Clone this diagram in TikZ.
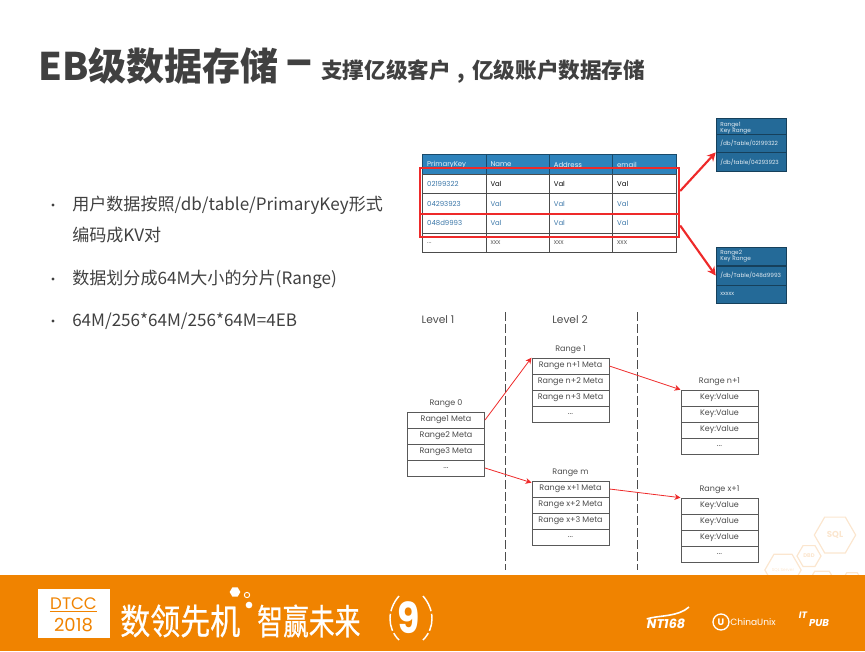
\documentclass[tikz,border=0pt]{standalone}
\usepackage{xcolor}
\usepackage{fontspec}
\setmainfont{Noto Sans CJK SC}
\newfontfamily\gothfont{Poppins}
\newfontfamily\sloganfont[FakeBold=0.6]{Noto Sans CJK SC}
\usetikzlibrary{positioning,shapes,arrows.meta}

\definecolor{slidetext}{HTML}{404040}
\definecolor{bannerorange}{HTML}{F08300}
\definecolor{headblue}{HTML}{2E83BC}
\definecolor{rangeblue}{HTML}{246A98}
\definecolor{cellblue}{HTML}{3A76A8}
\definecolor{redline}{HTML}{EE2A2A}
\definecolor{hexline}{HTML}{FBE6CF}

\tikzset{
    metacell/.style={draw=black!65, line width=0.5pt, fill=white, rectangle, minimum width=58pt, minimum height=12pt, inner sep=0pt, text=black!70, font=\gothfont\fontsize{6}{7}\selectfont},
    keycell/.style={draw=black!70, line width=0.8pt, fill=white, rectangle, minimum width=47.5pt, minimum height=14.7pt, inner sep=0pt, text width=41pt, align=left, font=\gothfont\fontsize{5.2}{6}\selectfont},
    headcell/.style={keycell, fill=headblue, draw=rangeblue!70!black, text=white!90!headblue},
    rangecell/.style={draw=rangeblue!60!black, line width=0.4pt, fill=rangeblue, rectangle, minimum width=52.5pt, minimum height=13.8pt, inner sep=0pt, text width=46pt, align=left, text=white!88!rangeblue, font=\gothfont\fontsize{4.3}{5}\selectfont},
    redbox/.style={draw=redline, line width=1.5pt, rectangle, inner sep=0pt},
    redlink/.style={-{Stealth[length=4.5pt,width=4.5pt]}, draw=redline, line width=0.6pt},
    redlinkbig/.style={-{Stealth[length=6.5pt,width=6.5pt]}, draw=redline, line width=1.6pt},
    caption/.style={text=black!70, inner sep=0pt, font=\gothfont\fontsize{6}{7}\selectfont},
    levelcaption/.style={caption, font=\gothfont\fontsize{8}{9}\selectfont},
    cutline/.style={black!70, line width=0.7pt, dash pattern=on 6.5pt off 2.5pt},
    bullettext/.style={anchor=west, inner sep=0pt, text=slidetext, font=\fontsize{12.8}{15}\selectfont},
    bulletdot/.style={circle, fill=slidetext, inner sep=0pt, minimum size=2.4pt},
    hexcell/.style={draw=hexline, line width=0.9pt, regular polygon, regular polygon sides=6, inner sep=0pt, text=hexline, font=\gothfont\bfseries},
    bannertext/.style={text=white, inner sep=0pt, yscale=1.18, font=\sloganfont\fontsize{22.5}{24}\selectfont},
    logotext/.style={text=white, inner sep=0pt, font=\gothfont\bfseries\itshape}
}

\begin{document}
\begin{tikzpicture}[x=0.75pt, y=-0.75pt, node distance=12pt]
    \useasboundingbox (0,0) rectangle (865,651);

    % title
    \node[anchor=west, inner sep=0pt, text=slidetext, font=\fontsize{28.5}{30}\selectfont\bfseries] (title) at (38,66) {EB级数据存储};
    \node[anchor=west, inner sep=0pt, text=slidetext, font=\fontsize{38}{40}\selectfont\bfseries] (dash) at (285,69) {–};
    \node[anchor=west, inner sep=0pt, text=slidetext, font=\fontsize{16.2}{18}\selectfont\bfseries] (subtitle) at (321,72) {支撑亿级客户\hspace{.32em},\hspace{.32em}亿级账户数据存储};

    % bullets
    \node[bulletdot] (dot1) at (53,205) {};
    \node[bullettext] (line1) at (72,205) {用户数据按照/db/table/PrimaryKey形式};
    \node[bullettext] (line1b) at (72,235) {编码成KV对};
    \node[bulletdot] (dot2) at (53,279) {};
    \node[bullettext] (line2) at (72,279) {数据划分成64M大小的分片(Range)};
    \node[bulletdot] (dot3) at (53,321) {};
    \node[bullettext] (line3) at (72,321) {64M/256*64M/256*64M=4EB};

    % kv table
    \node[headcell] (h1) at (454.5,164.5) {PrimaryKey};
    \node[headcell, right of=h1, node distance=47.5pt] (h2) {Name};
    \node[headcell, right of=h2, node distance=47.5pt] (h3) {Address};
    \node[headcell, right of=h3, node distance=47.5pt] (h4) {email};
    \node[keycell, below of=h1, node distance=14.7pt, text=cellblue] (k1) {02199322};
    \node[keycell, below of=h2, node distance=14.7pt] (v1a) {Val};
    \node[keycell, below of=h3, node distance=14.7pt] (v1b) {Val};
    \node[keycell, below of=h4, node distance=14.7pt] (v1c) {Val};
    \node[keycell, below of=k1, node distance=14.7pt, text=cellblue] (k2) {04293923};
    \node[keycell, below of=v1a, node distance=14.7pt, text=cellblue] (v2a) {Val};
    \node[keycell, below of=v1b, node distance=14.7pt, text=cellblue] (v2b) {Val};
    \node[keycell, below of=v1c, node distance=14.7pt, text=cellblue] (v2c) {Val};
    \node[keycell, below of=k2, node distance=14.7pt, text=cellblue] (k3) {048d9993};
    \node[keycell, below of=v2a, node distance=14.7pt, text=cellblue] (v3a) {Val};
    \node[keycell, below of=v2b, node distance=14.7pt, text=cellblue] (v3b) {Val};
    \node[keycell, below of=v2c, node distance=14.7pt, text=cellblue] (v3c) {Val};
    \node[keycell, below of=k3, node distance=14.7pt, text=black!60] (k4) {...};
    \node[keycell, below of=v3a, node distance=14.7pt, text=black!60] (v4a) {xxx};
    \node[keycell, below of=v3b, node distance=14.7pt, text=black!60] (v4b) {xxx};
    \node[keycell, below of=v3c, node distance=14.7pt, text=black!60] (v4c) {xxx};

    \node[redbox, minimum width=194.5pt, minimum height=34.5pt] (groupa) at (549.5,191) {};
    \node[redbox, minimum width=194.5pt, minimum height=17.2pt] (groupb) at (549.5,225.5) {};

    % range boxes
    \node[rangecell] (ra1) at (751,127.7) {Range1\\[-0.5pt]Key Range};
    \node[rangecell, below of=ra1] (ra2) {/db/Table/02199322};
    \node[rangecell, below of=ra2, node distance=13.6pt] (ra3) {/db/table/04293923};
    \node[rangecell] (rb1) at (751,256.5) {Range2\\[-0.5pt]Key Range};
    \node[rangecell, below of=rb1, node distance=14.3pt] (rb2) {/db/Table/048d9993};
    \node[rangecell, below of=rb2, node distance=14pt] (rb3) {xxxxx};

    \draw[redlinkbig] (groupa.east) -- (ra3.north west);
    \draw[redlinkbig] (groupb.east) -- (rb2.west);

    % levels
    \draw[cutline] (505,312) coordinate (cuta) -- (505,570) coordinate (cutb);
    \draw[cutline] (637,312) coordinate (cutc) -- (637,570) coordinate (cutd);
    \node[levelcaption] (level1) at (438,320) {Level 1};
    \node[levelcaption] (level2) at (570,320) {Level 2};

    % range 0
    \node[metacell] (m1) at (446,420) {Range1 Meta};
    \node[metacell, below of=m1] (m2) {Range2 Meta};
    \node[metacell, below of=m2] (m3) {Range3 Meta};
    \node[metacell, below of=m3] (m4) {...};
    \node[caption, above=2.5pt of m1] (cap0) {Range 0};

    % range 1
    \node[metacell] (n1) at (570.5,366) {Range n+1 Meta};
    \node[metacell, below of=n1] (n2) {Range n+2 Meta};
    \node[metacell, below of=n2] (n3) {Range n+3 Meta};
    \node[metacell, below of=n3] (n4) {...};
    \node[caption, above=2.5pt of n1] (cap1) {Range 1};

    % range m
    \node[metacell] (x1) at (570.5,489) {Range x+1 Meta};
    \node[metacell, below of=x1] (x2) {Range x+2 Meta};
    \node[metacell, below of=x2] (x3) {Range x+3 Meta};
    \node[metacell, below of=x3] (x4) {...};
    \node[caption, above=2.5pt of x1] (capm) {Range m};

    % range n+1
    \node[metacell] (p1) at (719.5,398) {Key:Value};
    \node[metacell, below of=p1] (p2) {Key:Value};
    \node[metacell, below of=p2] (p3) {Key:Value};
    \node[metacell, below of=p3] (p4) {...};
    \node[caption, above=2.5pt of p1] (capn) {Range n+1};

    % range x+1
    \node[metacell] (q1) at (719.5,506) {Key:Value};
    \node[metacell, below of=q1] (q2) {Key:Value};
    \node[metacell, below of=q2] (q3) {Key:Value};
    \node[metacell, below of=q3] (q4) {...};
    \node[caption, above=2.5pt of q1] (capx) {Range x+1};

    \draw[redlink] (m1.east) -- (n1.north west);
    \draw[redlink] (m4.east) -- ([yshift=-1.5pt]x1.north west);
    \draw[redlink] (n1.east) -- (p1.north west);
    \draw[redlink] (x1.east) -- (q1.north west);

    % hexagons behind the banner
    \node[hexcell, minimum size=31pt, font=\gothfont\bfseries\fontsize{6.5}{7}\selectfont] (hexsql) at (835,535) {SQL};
    \node[hexcell, minimum size=18pt, font=\gothfont\bfseries\fontsize{4}{5}\selectfont] (hexdb) at (809,556) {DBD};
    \node[hexcell, minimum size=26pt, font=\gothfont\fontsize{3.2}{4}\selectfont] (hexserver) at (783,570) {SQL Server};
    \node[hexcell, minimum size=22pt] (hexa) at (822,584) {};
    \node[hexcell, minimum size=16pt] (hexb) at (852,582) {};

    % banner
    \node[fill=bannerorange, rectangle, inner sep=0pt, minimum width=648.75pt, minimum height=57pt, anchor=north west] (banner) at (0,575) {};
    \node[fill=white, rectangle, inner sep=0pt, minimum width=54pt, minimum height=37pt] (logo) at (73.5,613.5) {};
    \node[inner sep=0pt, text=bannerorange, font=\gothfont\fontsize{12.5}{13}\selectfont] (dtcc) at (73.5,604) {DTCC};
    \node[inner sep=0pt, text=bannerorange, font=\gothfont\fontsize{13.5}{14}\selectfont] (year) at (73.5,625) {2018};
    \draw[bannerorange, line width=0.4pt] ([yshift=-1pt]dtcc.south west) -- ([yshift=-1pt]dtcc.south east);

    \node[bannertext, anchor=west] (slogana) at (120,621) {数领先机};
    \node[bannertext, anchor=west, xscale=0.86] (sloganb) at (257,621) {智赢未来};
    \node[regular polygon, regular polygon sides=6, fill=white, inner sep=0pt, minimum size=8pt] (dota) at (235,592) {};
    \node[circle, draw=white, line width=0.7pt, inner sep=0pt, minimum size=4pt] (dotb) at (247,595) {};
    \node[circle, fill=white, inner sep=0pt, minimum size=5pt] (dotc) at (249,605) {};
    \node[inner sep=0pt, text=white, xscale=0.85, font=\gothfont\bfseries\fontsize{32}{34}\selectfont] (nine) at (409,618) {9};
    \draw[white, line width=1.1pt, dash pattern=on 13pt off 2pt] (399,596) .. controls (387,610) and (387,628) .. (399,640);
    \draw[white, line width=1.1pt, dash pattern=on 13pt off 2pt] (423,596) .. controls (435,610) and (435,628) .. (423,640);

    \node[logotext, font=\gothfont\bfseries\itshape\fontsize{9.5}{10}\selectfont] (nt) at (666,624) {NT168};
    \draw[white, line width=1.2pt] (nt.north west) .. controls (660,615) and (678,617) .. (689,607);
    \node[circle, draw=white, line width=1pt, inner sep=0pt, minimum size=12pt, text=white, font=\gothfont\bfseries\fontsize{7}{8}\selectfont] (cuicon) at (721,622) {U};
    \node[inner sep=0pt, text=white, font=\gothfont\fontsize{6.8}{8}\selectfont, anchor=west] (cu) at (730,622) {ChinaUnix};
    \node[logotext, font=\gothfont\bfseries\itshape\fontsize{7}{8}\selectfont] (it) at (803,615) {IT};
    \node[logotext, font=\gothfont\bfseries\itshape\fontsize{7.5}{8}\selectfont] (pub) at (819,623) {PUB};
\end{tikzpicture}
\end{document}
